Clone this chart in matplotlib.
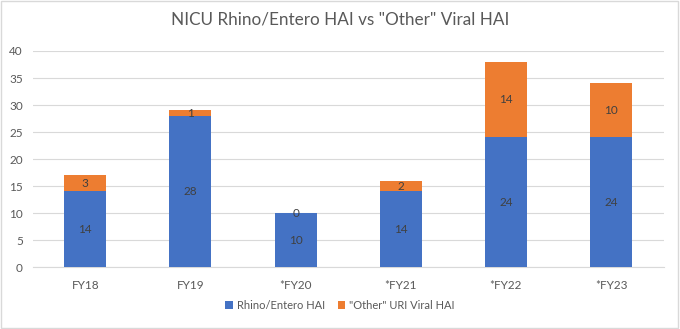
import matplotlib.pyplot as plt
import matplotlib.patches as mpatches
import numpy as np

years = ['FY18', 'FY19', '*FY20', '*FY21', '*FY22', '*FY23']
rhino = [14, 28, 10, 14, 24, 24]
other = [3, 1, 0, 2, 14, 10]

blue = '#4472C4'
orange = '#ED7D31'
grey_txt = '#595959'

plt.rcParams['font.family'] = ['Lato', 'DejaVu Sans']

fig = plt.figure(figsize=(6.8, 3.29), dpi=100)
ax = fig.add_axes([0.048, 0.188, 0.928, 0.657])

x = np.arange(len(years))
b1 = ax.bar(x, rhino, width=0.4, color=blue, label='Rhino/Entero HAI', zorder=3)
b2 = ax.bar(x, other, width=0.4, bottom=rhino, color=orange,
            label='"Other" URI Viral HAI', zorder=3)

# labels in the middle of each segment
for i in range(len(years)):
    ax.text(x[i], rhino[i] / 2, str(rhino[i]), ha='center', va='center',
            fontsize=8.5, color='#404040', zorder=4)
    ax.text(x[i], rhino[i] + other[i] / 2, str(other[i]), ha='center', va='center',
            fontsize=8.5, color='#404040', zorder=4)

ax.set_xlim(-0.5, len(years) - 0.5)
ax.set_ylim(0, 40)
ax.set_yticks(range(0, 41, 5))
ax.set_xticks(x)
ax.set_xticklabels(years)
ax.grid(axis='y', color='#D9D9D9', linewidth=0.8, zorder=0)
for s in ['top', 'right', 'left']:
    ax.spines[s].set_visible(False)
ax.spines['bottom'].set_color('#D9D9D9')
ax.tick_params(axis='both', length=0, labelsize=8.5, colors=grey_txt)
ax.tick_params(axis='x', pad=9)
ax.tick_params(axis='y', pad=7)

fig.suptitle('NICU Rhino/Entero HAI vs "Other" Viral HAI', y=0.965,
             fontsize=12.3, color=grey_txt)

fig.legend(handles=[b1, b2], loc='center', bbox_to_anchor=(0.5, 0.072), ncol=2,
           frameon=False, fontsize=8, labelcolor=grey_txt,
           handlelength=0.65, handleheight=0.65, handletextpad=0.35, columnspacing=1.2)

# chart border
fig.patches.append(mpatches.Rectangle((0.002, 0.003), 0.995, 0.994, transform=fig.transFigure,
                                      fill=False, edgecolor='#D9D9D9', linewidth=1))

fig.savefig('out.png', dpi=100)
